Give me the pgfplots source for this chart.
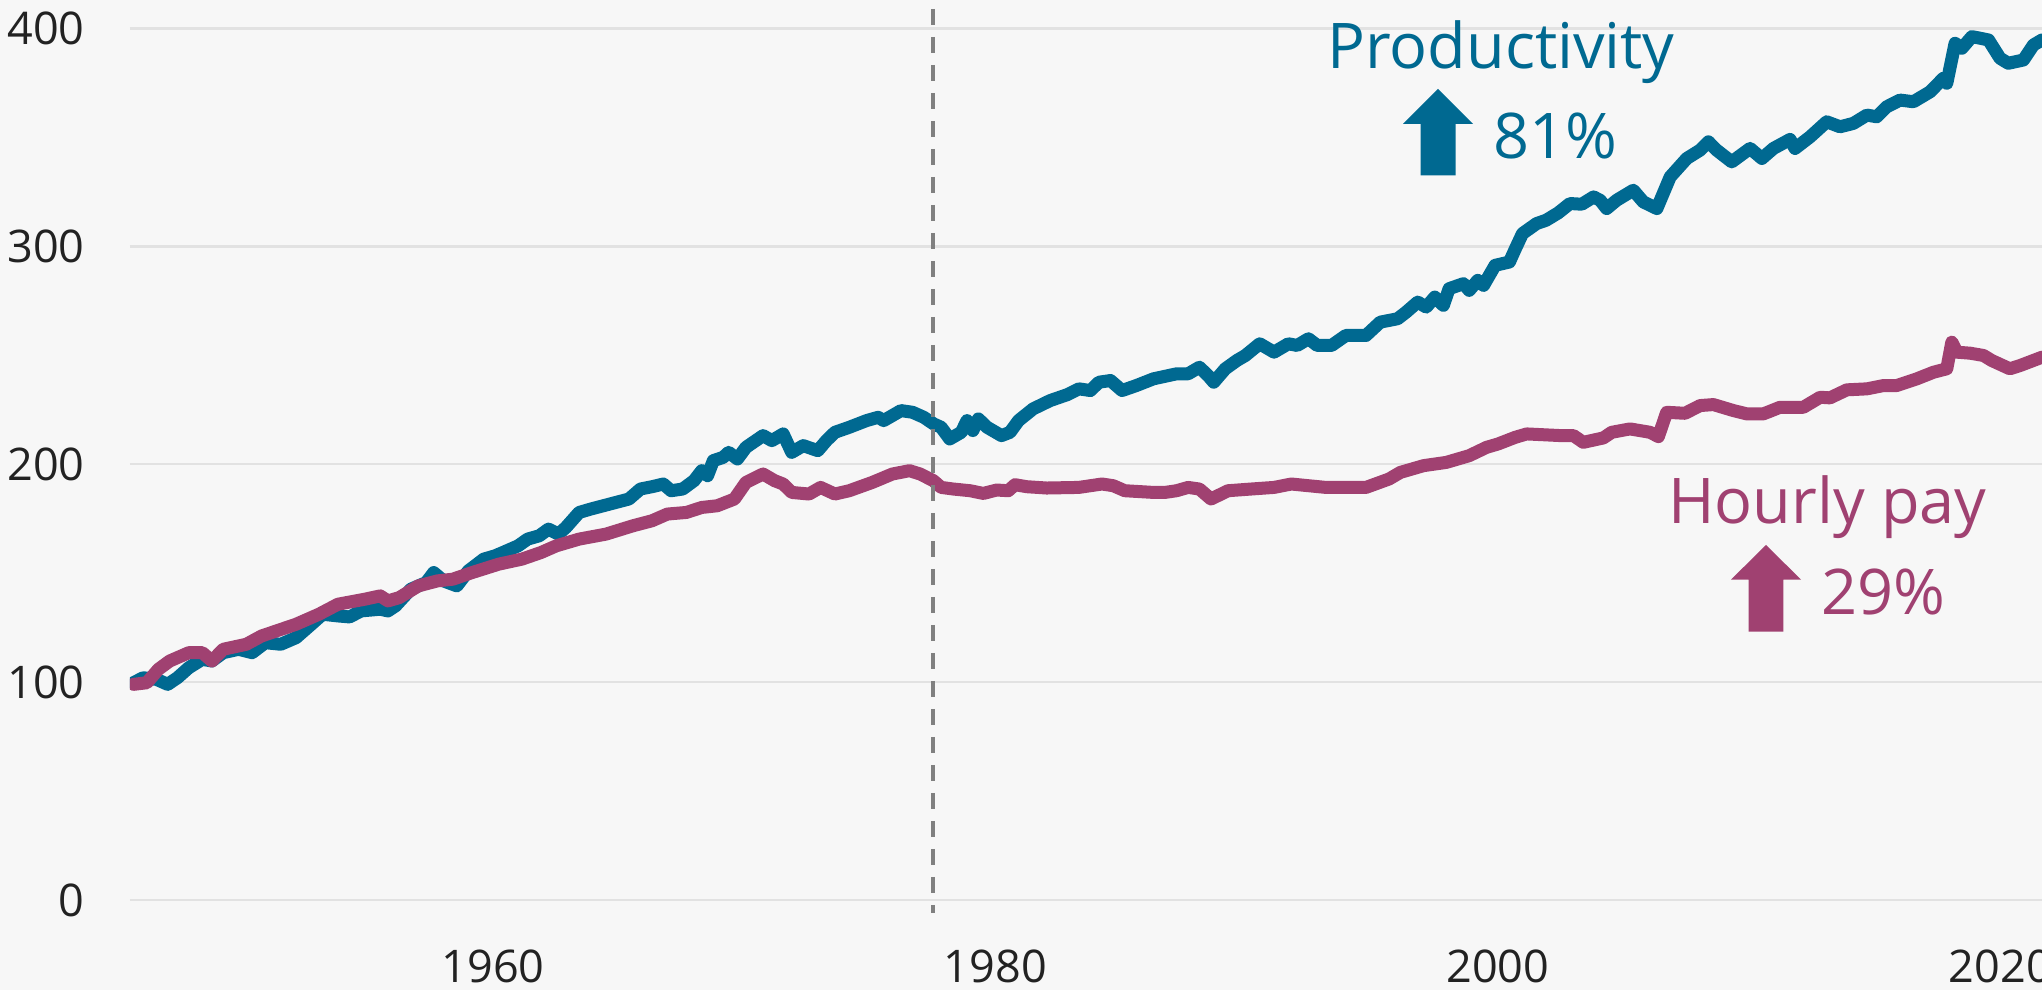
\documentclass[border=0pt]{standalone}
\usepackage{pgfplots}
\pgfplotsset{compat=1.18}
\usepackage{fontspec}
\setmainfont{Open Sans}
\definecolor{prodcol}{RGB}{0,105,145}
\definecolor{paycol}{RGB}{160,65,113}
\definecolor{bgcol}{RGB}{247,247,247}
\definecolor{gridcol}{RGB}{226,226,226}
\definecolor{tickcol}{RGB}{34,34,34}
\definecolor{dashcol}{RGB}{128,128,128}
\begin{document}
\begin{tikzpicture}
\useasboundingbox (0,0) rectangle (1021pt,495pt);
\clip (0,0) rectangle (1021pt,495pt);
\fill[bgcol] (0,0) rectangle (1021pt,495pt);
\begin{axis}[
  at={(65pt,0pt)}, anchor=south west,
  width=956pt, height=495pt, scale only axis,
  xmin=1945.55, xmax=2021.66,
  ymin=-41.3, ymax=413.1,
  axis line style={draw=none},
  tick style={draw=none},
  ytick={0,100,200,300,400},
  xtick={1960,1980,2000,2020},
  xticklabels={1960,1980,2000,2020},
  ymajorgrids,
  major grid style={color=gridcol, line width=1.2pt},
  /pgf/number format/assume math mode=true,
  ticklabel style={font=\fontsize{22.5}{27}\selectfont, text=tickcol},
  yticklabel style={anchor=east, inner sep=0pt, xshift=-22.5pt},
  xticklabel style={anchor=base, inner sep=0pt, yshift=3.5pt},
]
\addplot[prodcol, line width=6.5pt, line join=round, line cap=round] coordinates {
(1945.69,99.72)(1946.07,102.02)(1946.60,101.29)(1947.05,98.99)(1947.44,102.02)(1947.89,106.62)(1948.43,110.48)(1948.81,109.70)(1949.26,113.52)(1949.87,115.08)(1950.41,113.52)(1950.94,118.11)(1951.55,117.38)(1952.16,120.41)(1952.77,126.57)(1953.22,131.17)(1953.83,130.39)(1954.29,129.93)(1954.75,132.69)(1955.51,133.47)(1955.82,132.69)(1956.12,134.99)(1956.73,142.67)(1957.34,145.70)(1957.64,150.30)(1958.03,146.48)(1958.56,144.18)(1959.02,151.08)(1959.63,156.46)(1960.08,157.98)(1960.39,159.49)(1961.00,162.57)(1961.38,165.66)(1961.84,167.17)(1962.21,170.25)(1962.60,167.95)(1962.90,170.99)(1963.43,177.89)(1963.89,179.45)(1965.41,184.05)(1965.87,188.64)(1966.33,189.70)(1966.78,190.94)(1967.09,187.86)(1967.55,188.64)(1968.00,192.46)(1968.31,197.06)(1968.54,194.76)(1968.77,201.66)(1969.16,203.17)(1969.38,205.47)(1969.73,202.44)(1970.07,207.77)(1970.75,213.15)(1971.10,210.85)(1971.55,213.93)(1971.89,205.47)(1972.35,208.55)(1972.93,206.25)(1973.27,210.85)(1973.61,214.67)(1974.18,216.97)(1974.87,220.05)(1975.33,221.56)(1975.55,220.05)(1976.24,224.64)(1976.70,223.86)(1977.15,221.56)(1977.54,218.53)(1977.84,216.97)(1978.18,211.63)(1978.64,214.67)(1978.87,220.05)(1979.10,215.45)(1979.32,220.83)(1979.67,216.97)(1980.24,213.15)(1980.58,214.67)(1980.92,220.05)(1981.50,225.43)(1982.18,229.24)(1982.87,232.00)(1983.32,234.62)(1983.78,233.84)(1984.12,237.66)(1984.58,238.44)(1985.04,233.84)(1985.61,236.14)(1986.29,239.22)(1987.21,241.52)(1987.67,241.52)(1988.12,244.55)(1988.46,240.74)(1988.69,237.66)(1989.15,243.82)(1989.61,247.63)(1989.95,249.93)(1990.52,255.31)(1991.09,251.45)(1991.66,255.31)(1992.01,254.53)(1992.46,257.61)(1992.81,254.53)(1993.38,254.53)(1993.95,259.13)(1994.75,259.13)(1995.32,265.24)(1996.01,266.80)(1996.35,269.84)(1996.81,274.44)(1997.15,272.14)(1997.49,276.74)(1997.83,272.92)(1998.06,280.60)(1998.63,282.90)(1998.86,279.82)(1999.20,284.41)(1999.43,282.11)(1999.89,291.31)(2000.46,292.83)(2000.70,298.99)(2000.98,305.89)(2001.54,310.48)(2001.92,312.00)(2002.40,315.36)(2002.87,319.68)(2003.34,319.36)(2003.81,322.71)(2004.07,321.20)(2004.33,317.38)(2004.73,321.20)(2005.39,325.79)(2005.79,320.41)(2006.33,317.38)(2006.86,331.91)(2007.52,340.37)(2008.05,344.18)(2008.38,348.00)(2008.71,344.18)(2009.31,338.80)(2010.04,344.97)(2010.51,340.37)(2010.97,344.97)(2011.63,349.10)(2011.83,344.97)(2012.43,350.30)(2013.09,357.20)(2013.62,354.90)(2014.15,356.46)(2014.69,360.28)(2015.08,359.49)(2015.48,364.09)(2016.01,367.17)(2016.54,366.39)(2017.21,370.99)(2017.73,377.15)(2017.87,374.85)(2018.20,393.24)(2018.47,390.94)(2018.87,396.28)(2019.20,395.54)(2019.53,394.76)(2019.99,386.34)(2020.32,384.05)(2020.92,385.56)(2021.32,392.46)(2021.66,394.76)
};
\addplot[paycol, line width=6.5pt, line join=round, line cap=round] coordinates {
(1945.69,98.99)(1946.22,99.72)(1946.68,105.89)(1947.13,109.70)(1947.89,113.52)(1948.43,113.52)(1948.81,109.70)(1949.26,115.08)(1950.18,117.38)(1950.79,121.20)(1952.16,126.57)(1953.07,131.17)(1953.83,135.77)(1954.90,138.07)(1955.51,139.59)(1955.82,137.29)(1956.27,138.80)(1957.03,144.18)(1957.79,146.48)(1958.40,147.26)(1959.17,150.30)(1960.23,154.16)(1961.15,156.46)(1961.91,159.49)(1962.52,162.57)(1963.43,165.66)(1964.50,167.95)(1965.57,171.77)(1966.33,174.07)(1966.94,177.15)(1967.70,177.89)(1968.31,180.18)(1968.93,180.97)(1969.61,184.05)(1970.07,191.68)(1970.75,195.54)(1971.21,192.46)(1971.55,190.94)(1971.89,187.08)(1972.58,186.34)(1973.04,189.38)(1973.61,186.34)(1974.18,187.86)(1975.10,191.68)(1975.90,195.54)(1976.58,197.06)(1977.00,195.54)(1977.53,192.46)(1977.84,189.38)(1978.32,188.64)(1978.99,187.86)(1979.52,186.62)(1980.05,188.18)(1980.51,187.86)(1980.78,190.62)(1981.25,189.70)(1982.04,189.10)(1983.32,189.38)(1984.24,190.94)(1984.69,190.16)(1985.15,187.86)(1986.29,187.08)(1986.75,187.08)(1987.21,187.86)(1987.67,189.38)(1988.12,188.64)(1988.58,184.05)(1989.26,187.86)(1990.18,188.64)(1991.09,189.38)(1991.78,190.94)(1992.46,190.16)(1993.15,189.38)(1994.06,189.38)(1994.75,189.38)(1995.67,193.24)(1996.12,196.28)(1997.04,199.36)(1997.95,200.87)(1998.86,203.95)(1999.55,207.77)(2000.01,209.33)(2000.69,212.37)(2001.15,213.93)(2002.52,213.15)(2003.01,213.15)(2003.40,210.07)(2004.20,212.09)(2004.53,214.67)(2005.26,216.23)(2006.06,214.67)(2006.39,212.69)(2006.72,223.86)(2007.45,223.40)(2008.05,226.94)(2008.58,227.40)(2009.38,224.64)(2009.91,223.13)(2010.57,223.13)(2011.23,226.16)(2012.16,226.16)(2012.83,230.76)(2013.22,230.48)(2013.89,234.16)(2014.69,234.62)(2015.35,236.14)(2015.88,236.14)(2016.68,239.22)(2017.34,242.25)(2017.87,243.82)(2018.07,256.05)(2018.27,251.45)(2018.80,250.99)(2019.33,249.93)(2019.66,247.63)(2020.38,243.82)(2020.79,245.33)(2021.66,249.15)
};
\draw[dashcol, line width=2pt, dash pattern=on 8pt off 6pt] (axis cs:1977.53,409) -- (axis cs:1977.53,-6);
\end{axis}
% annotations (picture coordinates: 1px = 0.5pt)
\node[anchor=base, inner sep=0pt, text=prodcol, font=\fontsize{31.5}{36}\selectfont] at (750.5pt,460.5pt) {Productivity};
\node[anchor=base, inner sep=0pt, text=prodcol, font=\fontsize{31.5}{36}\selectfont] at (777.5pt,415.5pt) {81\%};
\fill[prodcol] (701.5pt,433pt) -- (719pt,450.5pt) -- (736.5pt,433pt) -- (727.75pt,433pt) -- (727.75pt,407.25pt) -- (710.25pt,407.25pt) -- (710.25pt,433pt) -- cycle;
\node[anchor=base, inner sep=0pt, text=paycol, font=\fontsize{31.5}{36}\selectfont] at (913.75pt,233pt) {Hourly pay};
\node[anchor=base, inner sep=0pt, text=paycol, font=\fontsize{31.5}{36}\selectfont] at (941.5pt,187.8pt) {29\%};
\fill[paycol] (865.5pt,205.2pt) -- (883pt,222.5pt) -- (900.5pt,205.2pt) -- (891.65pt,205.2pt) -- (891.65pt,179.2pt) -- (874.35pt,179.2pt) -- (874.35pt,205.2pt) -- cycle;
\end{tikzpicture}
\end{document}
